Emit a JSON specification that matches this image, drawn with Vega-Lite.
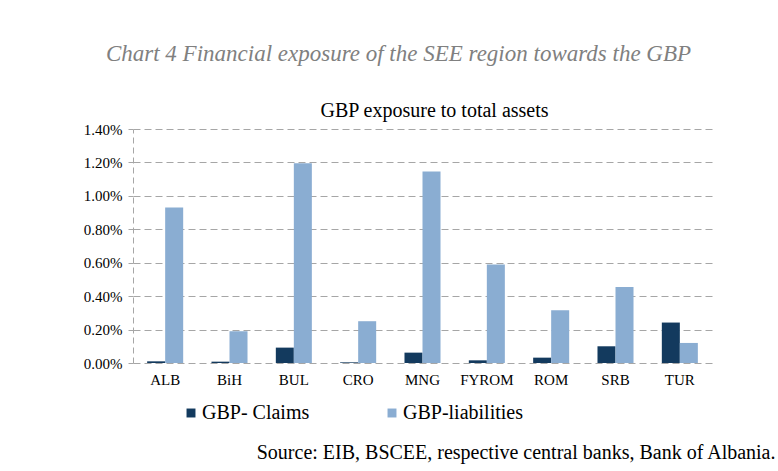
{
  "$schema": "https://vega.github.io/schema/vega-lite/v6.json",
  "width": 579,
  "height": 234,
  "autosize": "none",
  "padding": {"left": 133, "top": 129, "right": 66, "bottom": 108},
  "background": "white",
  "config": {"view": {"stroke": null}, "font": "Liberation Serif, Times New Roman, serif"},
  "title": {
    "text": "Chart 4 Financial exposure of  the SEE region towards the GBP",
    "font": "Liberation Serif, Times New Roman, serif",
    "fontStyle": "italic",
    "fontWeight": "normal",
    "fontSize": 23,
    "color": "#808080",
    "anchor": "middle",
    "dx": -24,
    "offset": 34
  },
  "data": {
    "values": [
      {"country": "ALB", "series": "GBP- Claims", "value": 0.0001},
      {"country": "ALB", "series": "GBP-liabilities", "value": 0.0093},
      {"country": "BiH", "series": "GBP- Claims", "value": 0.00008},
      {"country": "BiH", "series": "GBP-liabilities", "value": 0.0019},
      {"country": "BUL", "series": "GBP- Claims", "value": 0.00092},
      {"country": "BUL", "series": "GBP-liabilities", "value": 0.01195},
      {"country": "CRO", "series": "GBP- Claims", "value": 0.00004},
      {"country": "CRO", "series": "GBP-liabilities", "value": 0.0025},
      {"country": "MNG", "series": "GBP- Claims", "value": 0.00062},
      {"country": "MNG", "series": "GBP-liabilities", "value": 0.01145},
      {"country": "FYROM", "series": "GBP- Claims", "value": 0.00016},
      {"country": "FYROM", "series": "GBP-liabilities", "value": 0.0059},
      {"country": "ROM", "series": "GBP- Claims", "value": 0.00032},
      {"country": "ROM", "series": "GBP-liabilities", "value": 0.00315},
      {"country": "SRB", "series": "GBP- Claims", "value": 0.001},
      {"country": "SRB", "series": "GBP-liabilities", "value": 0.00455},
      {"country": "TUR", "series": "GBP- Claims", "value": 0.00242},
      {"country": "TUR", "series": "GBP-liabilities", "value": 0.0012}
    ]
  },
  "mark": {"type": "bar"},
  "encoding": {
    "x": {
      "field": "country",
      "type": "nominal",
      "sort": null,
      "scale": {"paddingInner": 0.44, "paddingOuter": 0.22},
      "axis": {
        "title": "Source: EIB, BSCEE, respective central banks, Bank of Albania.",
        "titleFont": "Liberation Serif, Times New Roman, serif",
        "titleFontSize": 20,
        "titleFontWeight": "normal",
        "titleColor": "#000000",
        "titleAlign": "right",
        "titleAnchor": null,
        "titleBaseline": "alphabetic",
        "titleX": 642,
        "titleY": 95,
        "labelAngle": 0,
        "labelFont": "Liberation Serif, Times New Roman, serif",
        "labelFontSize": 15,
        "labelColor": "#000000",
        "labelPadding": 9,
        "ticks": false,
        "domain": false,
        "grid": false
      }
    },
    "xOffset": {"field": "series", "type": "nominal", "sort": ["GBP- Claims", "GBP-liabilities"]},
    "y": {
      "field": "value",
      "type": "quantitative",
      "scale": {"domain": [0, 0.014], "nice": false},
      "axis": {
        "values": [0, 0.002, 0.004, 0.006, 0.008, 0.01, 0.012, 0.014],
        "format": ".2%",
        "title": "GBP exposure to total assets",
        "titleFont": "Liberation Serif, Times New Roman, serif",
        "titleFontSize": 20,
        "titleFontWeight": "normal",
        "titleColor": "#000000",
        "titleAngle": 0,
        "titleAlign": "center",
        "titleAnchor": null,
        "titleBaseline": "alphabetic",
        "titleX": 301,
        "titleY": -13,
        "labelFont": "Liberation Serif, Times New Roman, serif",
        "labelFontSize": 15,
        "labelColor": "#000000",
        "labelPadding": 6,
        "domain": true,
        "domainColor": "#a6a6a6",
        "domainDash": [6, 4],
        "ticks": true,
        "tickSize": 5,
        "tickColor": "#a6a6a6",
        "grid": true,
        "gridColor": "#a6a6a6",
        "gridDash": [7, 4],
        "gridWidth": 1
      }
    },
    "color": {
      "field": "series",
      "type": "nominal",
      "scale": {"domain": ["GBP- Claims", "GBP-liabilities"], "range": ["#133a5e", "#8aadd2"]},
      "legend": {
        "title": null,
        "orient": "none",
        "direction": "horizontal",
        "legendX": 48,
        "legendY": 274,
        "symbolType": "square",
        "symbolSize": 80,
        "symbolStrokeWidth": 0,
        "labelFont": "Liberation Serif, Times New Roman, serif",
        "labelFontSize": 20,
        "labelColor": "#000000",
        "labelOffset": 1,
        "gridAlign": "all",
        "columnPadding": 60,
        "labelLimit": 300
      }
    }
  }
}
